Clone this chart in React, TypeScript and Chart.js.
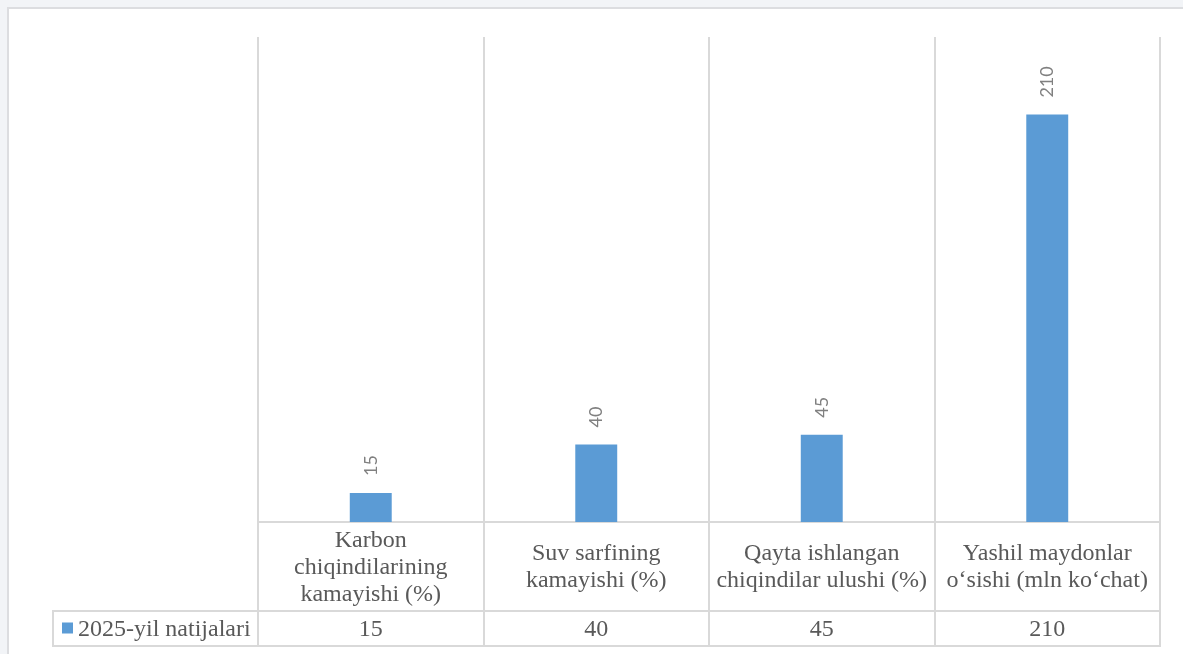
import React, { useEffect, useRef } from "react";
import { Chart, registerables } from "chart.js";

Chart.register(...registerables);

const categories: string[][] = [
  ["Karbon", "chiqindilarining", "kamayishi (%)"],
  ["Suv sarfining", "kamayishi (%)"],
  ["Qayta ishlangan", "chiqindilar ulushi (%)"],
  ["Yashil maydonlar", "o‘sishi (mln ko‘chat)"],
];
const values: number[] = [15, 40, 45, 210];
const seriesName = "2025-yil natijalari";
const yMin = 0;
const yMax = 250;

const BAR_COLOR = "#5b9bd5";
const GRID_COLOR = "#d9d9d9";
const TEXT_COLOR = "#595959";
const LABEL_COLOR = "#808080";
const SERIF = "'Liberation Serif', 'Times New Roman', serif";

const tablePlugin = {
  id: "tablePlugin",
  afterDraw(chart: any) {
    const ctx = chart.ctx as CanvasRenderingContext2D;
    const xs = chart.scales.x;
    const area = chart.chartArea;
    const meta = chart.getDatasetMeta(0);
    const rowH = 35;
    const rowTop = xs.bottom - rowH;
    const rowBottom = xs.bottom;
    const legendLeft = 53;

    ctx.save();
    // data labels (rotated)
    ctx.font = "18px Lato, 'Liberation Sans', sans-serif";
    ctx.fillStyle = LABEL_COLOR;
    meta.data.forEach((bar: any, i: number) => {
      ctx.save();
      ctx.translate(bar.x, bar.y - 17);
      ctx.rotate(-Math.PI / 2);
      ctx.textAlign = "left";
      ctx.textBaseline = "middle";
      ctx.fillText(String(values[i]), 0, 0);
      ctx.restore();
    });

    // category labels
    ctx.font = `24px ${SERIF}`;
    ctx.fillStyle = TEXT_COLOR;
    ctx.textAlign = "center";
    ctx.textBaseline = "middle";
    const lh = 27;
    const midCat = (area.bottom + rowTop) / 2;
    categories.forEach((lines, i) => {
      const cx = xs.getPixelForValue(i);
      const start = midCat - ((lines.length - 1) * lh) / 2;
      lines.forEach((ln, j) => ctx.fillText(ln, cx, start + j * lh + 1));
    });

    // table values
    const midRow = (rowTop + rowBottom) / 2;
    values.forEach((v, i) => {
      ctx.fillText(String(v), xs.getPixelForValue(i), midRow + 1);
    });

    // table lines
    ctx.strokeStyle = GRID_COLOR;
    ctx.lineWidth = 2;
    ctx.beginPath();
    ctx.moveTo(legendLeft, rowTop);
    ctx.lineTo(area.right + 1, rowTop);
    ctx.moveTo(legendLeft, rowBottom);
    ctx.lineTo(area.right + 1, rowBottom);
    ctx.moveTo(legendLeft, rowTop - 1);
    ctx.lineTo(legendLeft, rowBottom + 1);
    ctx.stroke();

    // legend cell
    ctx.fillStyle = BAR_COLOR;
    ctx.fillRect(62, midRow - 6, 11, 11);
    ctx.fillStyle = TEXT_COLOR;
    ctx.textAlign = "left";
    ctx.fillText(seriesName, 78, midRow + 1);
    ctx.restore();
  },
};

export default function App() {
  const ref = useRef<HTMLCanvasElement | null>(null);

  useEffect(() => {
    if (!ref.current) return;
    const chart = new Chart(ref.current, {
      type: "bar",
      data: {
        labels: categories.map((c) => c.join(" ")),
        datasets: [
          {
            label: seriesName,
            data: values,
            backgroundColor: BAR_COLOR,
            borderWidth: 0,
            categoryPercentage: 1,
            barPercentage: 0.186,
          },
        ],
      },
      options: {
        responsive: false,
        animation: false,
        layout: { padding: { left: 258, right: 23, top: 37, bottom: 8 } },
        plugins: {
          legend: { display: false },
          tooltip: { enabled: false },
          title: { display: false },
        },
        scales: {
          x: {
            display: true,
            offset: true,
            grid: {
              offset: true,
              color: GRID_COLOR,
              lineWidth: 2,
              drawTicks: true,
              tickLength: 124,
              tickColor: GRID_COLOR,
              tickWidth: 2,
            },
            border: { display: true, color: GRID_COLOR, width: 2 },
            ticks: { display: false },
          },
          y: {
            display: false,
            min: yMin,
            max: yMax,
          },
        },
      },
      plugins: [tablePlugin],
    });
    return () => chart.destroy();
  }, []);

  return (
    <div
      style={{
        position: "absolute",
        left: 0,
        top: 0,
        width: 1183,
        height: 654,
        overflow: "hidden",
        background: "#f2f4f7",
      }}
    >
      <div
        style={{
          position: "absolute",
          left: 7,
          top: 7,
          width: 1250,
          height: 700,
          background: "#ffffff",
          borderTop: "2px solid #dcdde0",
          borderLeft: "2px solid #dcdde0",
        }}
      />
      <canvas
        ref={ref}
        width={1183}
        height={654}
        style={{ position: "absolute", left: 0, top: 0, width: 1183, height: 654 }}
      />
    </div>
  );
}
